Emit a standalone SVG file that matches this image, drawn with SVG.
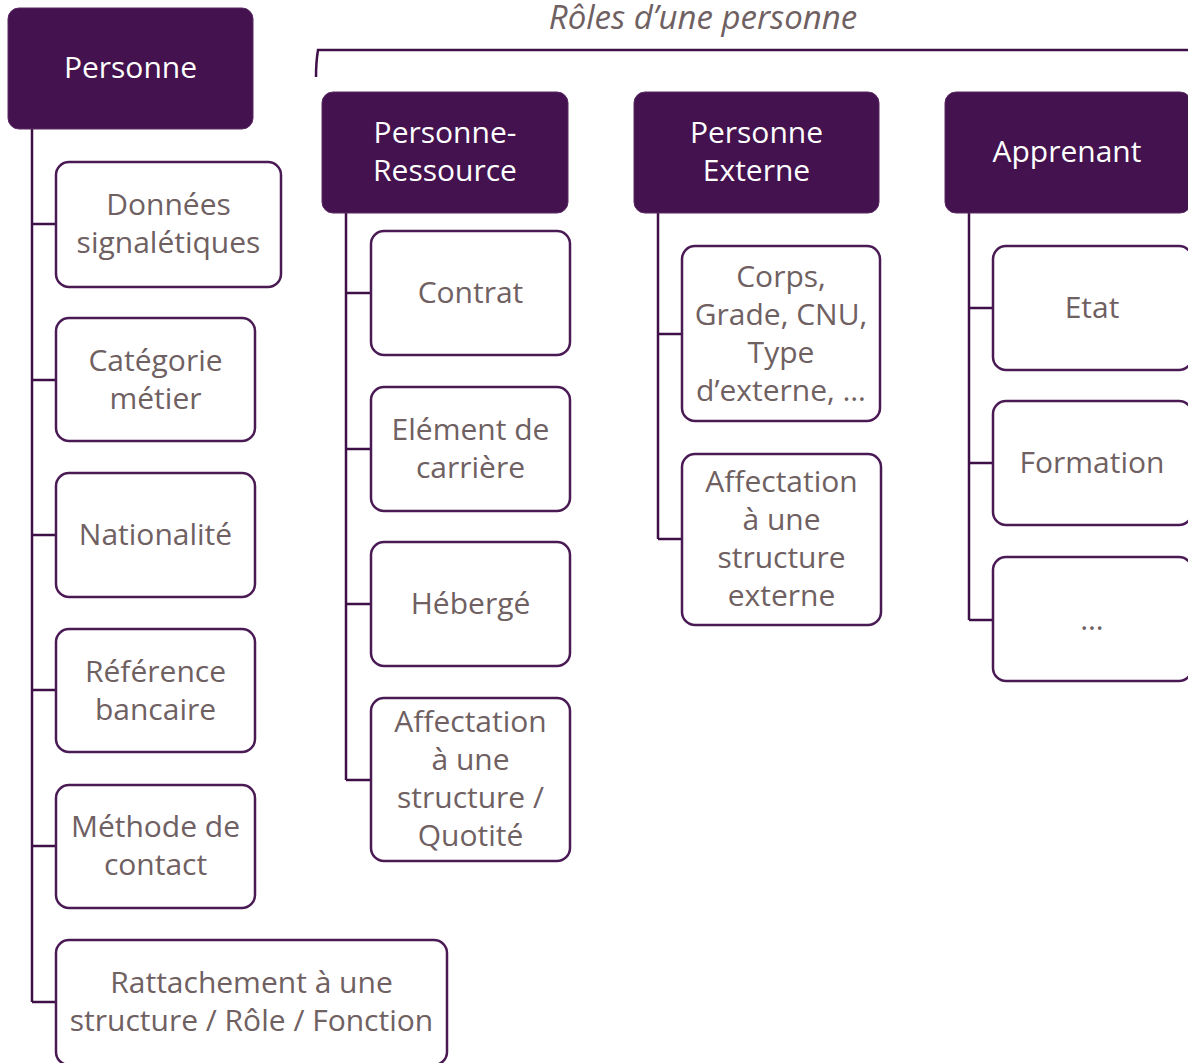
<svg xmlns="http://www.w3.org/2000/svg" width="1188" height="1063" viewBox="0 0 1188 1063">
<style>
.hdr{fill:#44124F;stroke:#5a2a63;stroke-width:1}
.box{fill:#fff;stroke:#4A1A55;stroke-width:2.5}
.ht{fill:#fff;font-family:"Open Sans","Noto Sans",sans-serif;font-size:30px;text-anchor:middle}
.bt{fill:#6F6062;font-family:"Open Sans","Noto Sans",sans-serif;font-size:30px;text-anchor:middle}
.con{fill:none;stroke:#3F1048;stroke-width:2.5}
.ttl{fill:#6F6062;font-family:"Open Sans","Noto Sans",sans-serif;font-size:33px;font-style:italic;text-anchor:middle}
</style>
<text class="ttl" x="703" y="29">Rôles d’une personne</text>
<g id="connectors">
<path class="con" d="M316,77 Q316,62 318,50 L1188,50" stroke-width="1.8"/>
<path class="con" d="M32,129 V1002 M32,224 H56 M32,380 H56 M32,535 H56 M32,690 H56 M32,846 H56 M32,1002 H56"/>
<path class="con" d="M346,213 V780 M346,293 H371 M346,449 H371 M346,604 H371 M346,780 H371"/>
<path class="con" d="M658,213 V539 M658,334 H682 M658,539 H682"/>
<path class="con" d="M969,213 V620 M969,308 H993 M969,463 H993 M969,620 H993"/>
</g>
<g id="personne"><rect class="hdr" x="8" y="8" width="245" height="121" rx="11"/><text class="ht" x="130.5" y="78">Personne</text></g>
<g id="donnees"><rect class="box" x="56" y="162" width="225" height="125" rx="13"/><text class="bt" x="168.5" y="215">Données</text><text class="bt" x="168.5" y="253">signalétiques</text></g>
<g id="categorie"><rect class="box" x="56" y="318" width="199" height="123" rx="13"/><text class="bt" x="155.5" y="371">Catégorie</text><text class="bt" x="155.5" y="409">métier</text></g>
<g id="nationalite"><rect class="box" x="56" y="473" width="199" height="124" rx="13"/><text class="bt" x="155.5" y="545">Nationalité</text></g>
<g id="reference"><rect class="box" x="56" y="629" width="199" height="123" rx="13"/><text class="bt" x="155.5" y="682">Référence</text><text class="bt" x="155.5" y="720">bancaire</text></g>
<g id="methode"><rect class="box" x="56" y="785" width="199" height="123" rx="13"/><text class="bt" x="155.5" y="837">Méthode de</text><text class="bt" x="155.5" y="875">contact</text></g>
<g id="rattachement"><rect class="box" x="56" y="940" width="391" height="125" rx="13"/><text class="bt" x="251.5" y="993">Rattachement à une</text><text class="bt" x="251.5" y="1031">structure / Rôle / Fonction</text></g>
<g id="personne-ressource"><rect class="hdr" x="322" y="92" width="246" height="121" rx="11"/><text class="ht" x="445" y="143">Personne-</text><text class="ht" x="445" y="181">Ressource</text></g>
<g id="contrat"><rect class="box" x="371" y="231" width="199" height="124" rx="13"/><text class="bt" x="470.5" y="303">Contrat</text></g>
<g id="element"><rect class="box" x="371" y="387" width="199" height="124" rx="13"/><text class="bt" x="470.5" y="440">Elément de</text><text class="bt" x="470.5" y="478">carrière</text></g>
<g id="heberge"><rect class="box" x="371" y="542" width="199" height="124" rx="13"/><text class="bt" x="470.5" y="614">Hébergé</text></g>
<g id="affectation"><rect class="box" x="371" y="698" width="199" height="163" rx="13"/><text class="bt" x="470.5" y="732">Affectation</text><text class="bt" x="470.5" y="770">à une</text><text class="bt" x="470.5" y="808">structure /</text><text class="bt" x="470.5" y="846">Quotité</text></g>
<g id="personne-externe"><rect class="hdr" x="634" y="92" width="245" height="121" rx="11"/><text class="ht" x="756.5" y="143">Personne</text><text class="ht" x="756.5" y="181">Externe</text></g>
<g id="corps"><rect class="box" x="682" y="246" width="198" height="175" rx="13"/><text class="bt" x="781" y="287">Corps,</text><text class="bt" x="781" y="325">Grade, CNU,</text><text class="bt" x="781" y="363">Type</text><text class="bt" x="781" y="401">d’externe, …</text></g>
<g id="affectation-externe"><rect class="box" x="682" y="454" width="199" height="171" rx="13"/><text class="bt" x="781.5" y="492">Affectation</text><text class="bt" x="781.5" y="530">à une</text><text class="bt" x="781.5" y="568">structure</text><text class="bt" x="781.5" y="606">externe</text></g>
<g id="apprenant"><rect class="hdr" x="945" y="92" width="246" height="121" rx="11"/><text class="ht" x="1067" y="162">Apprenant</text></g>
<g id="etat"><rect class="box" x="993" y="246" width="199" height="124" rx="13"/><text class="bt" x="1092" y="318">Etat</text></g>
<g id="formation"><rect class="box" x="993" y="401" width="199" height="124" rx="13"/><text class="bt" x="1092" y="473">Formation</text></g>
<g id="etc"><rect class="box" x="993" y="557" width="199" height="124" rx="13"/><text class="bt" x="1092" y="630">…</text></g>
</svg>
